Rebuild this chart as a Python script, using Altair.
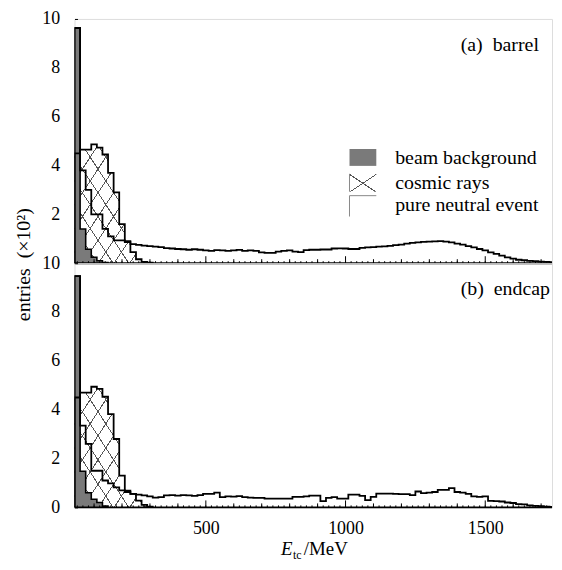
import altair as alt
import pandas as pd

# ---------------- data ----------------
BIN_START = 30      # MeV, left edge of first bin
BIN_WIDTH = 20      # MeV

top_beam = [9.63, 1.40, 0.57, 0.24, 0.10, 0.03]
top_cosmic = [4.50, 4.65, 4.65, 4.86, 4.73, 4.45, 3.70, 2.90, 1.60, 0.86,
              0.45, 0.16, 0.05, 0.02]
top_neutral = [
    9.63, 3.80, 3.00, 2.00, 2.00, 1.40, 1.10, 0.93, 0.93, 0.90,
    0.78, 0.75, 0.72, 0.70, 0.68, 0.66, 0.62, 0.60, 0.58, 0.57,
    0.55, 0.57, 0.55, 0.52, 0.50, 0.53, 0.52, 0.50, 0.52, 0.54,
    0.50, 0.52, 0.50, 0.44, 0.42, 0.42, 0.47, 0.50, 0.52, 0.47,
    0.45, 0.53, 0.55, 0.55, 0.56, 0.56, 0.60, 0.61, 0.60, 0.58,
    0.58, 0.63, 0.65, 0.66, 0.68, 0.69, 0.71, 0.74, 0.76, 0.80,
    0.83, 0.85, 0.87, 0.88, 0.89, 0.90, 0.88, 0.85, 0.80, 0.76,
    0.70, 0.65, 0.58, 0.52, 0.44, 0.38, 0.31, 0.24, 0.19, 0.14,
    0.12, 0.09, 0.08, 0.06, 0.05, 0.04]

bot_beam = [9.47, 1.48, 0.60, 0.33, 0.20, 0.05]
bot_cosmic = [4.50, 4.70, 4.70, 4.94, 4.85, 4.53, 3.82, 2.80, 1.30, 0.69,
              0.55, 0.28, 0.10, 0.03]
bot_neutral = [
    9.47, 3.35, 2.60, 1.50, 1.50, 1.10, 0.98, 0.82, 0.70, 0.63,
    0.55, 0.52, 0.49, 0.45, 0.40, 0.42, 0.49, 0.50, 0.48, 0.50,
    0.49, 0.47, 0.50, 0.55, 0.55, 0.60, 0.42, 0.45, 0.44, 0.46,
    0.42, 0.40, 0.39, 0.39, 0.36, 0.36, 0.36, 0.36, 0.36, 0.43,
    0.43, 0.45, 0.48, 0.48, 0.26, 0.39, 0.42, 0.36, 0.36, 0.52,
    0.52, 0.47, 0.30, 0.43, 0.56, 0.56, 0.56, 0.55, 0.54, 0.54,
    0.50, 0.65, 0.58, 0.60, 0.63, 0.72, 0.72, 0.79, 0.63, 0.60,
    0.55, 0.45, 0.43, 0.45, 0.27, 0.26, 0.24, 0.20, 0.18, 0.13,
    0.12, 0.08, 0.06, 0.05, 0.03, 0.02]

x_label_values = [500, 1000, 1500]
major_ticks = [500, 1000, 1500]
medium_ticks = [100, 200, 300, 400, 600, 700, 800, 900, 1100, 1200, 1300,
                1400, 1600, 1700]
minor_ticks = list(range(40, 1740, 20))
top_y_labels = [2, 4, 6, 8, 10]
bot_y_labels = [0, 2, 4, 6, 8, 10]

legend_labels = ["beam background", "cosmic rays", "pure neutral event"]

# ---------------- style ----------------
W, H = 481, 246
FONT = "Liberation Serif"
X_DOMAIN = [30, 1739]
xscale = alt.Scale(domain=X_DOMAIN, nice=False, zero=False)
yscale = alt.Scale(domain=[0, 10], nice=False)
CLEAR = "rgba(255,255,255,0)"
HATCH = "#555555"
NB = "\u00a0"


def hatch(n, forward, w=0.007, phase=0.5):
    stops = []
    for k in range(n):
        t = (k + phase) / n
        stops += [alt.GradientStop(offset=t, color=CLEAR),
                  alt.GradientStop(offset=t, color=HATCH),
                  alt.GradientStop(offset=min(1, t + w), color=HATCH),
                  alt.GradientStop(offset=min(1, t + w), color=CLEAR)]
    if forward:
        return alt.LinearGradient(gradient="linear", stops=stops, x1=0, y1=0, x2=1, y2=1)
    return alt.LinearGradient(gradient="linear", stops=stops, x1=1, y1=0, x2=0, y2=1)


def area_df(vals):
    xs = [BIN_START + BIN_WIDTH * i for i in range(len(vals) + 1)]
    ys = list(vals) + [vals[-1]]
    return pd.DataFrame({"x": xs, "y": ys})


def outline_df(vals):
    n = len(vals)
    xs = [BIN_START] + [BIN_START + BIN_WIDTH * i for i in range(n)] + [BIN_START + BIN_WIDTH * n] * 2
    ys = [0] + list(vals) + [vals[-1], 0]
    return pd.DataFrame({"x": xs, "y": ys, "o": list(range(len(xs)))})


ONE = pd.DataFrame({"a": [0]})


def panel(beam, cosmic, neutral, label, ylabels, bottom, top):
    yaxis = dict(values=ylabels, title=None, domain=False, grid=False,
                 offset=-3, tickSize=3, tickColor="black", labelFont=FONT,
                 labelFontSize=18, labelColor="black", labelPadding=15)
    if top:
        yaxis.update(title="entries" + NB + NB + "(×10²)", titleFont=FONT, titleFontSize=20,
                     titleFontWeight="normal", titleColor="black", titleAngle=-90,
                     titleX=-54, titleY=H + 1, titleAlign="center", titleBaseline="middle")
    if bottom:
        xaxis = dict(values=x_label_values, title=None, domain=False, grid=False,
                     ticks=False, labelFont=FONT, labelFontSize=18, format="d",
                     labelColor="black", labelPadding=12)
    else:
        xaxis = dict(values=x_label_values, title=None, domain=False, grid=False,
                     ticks=False, labels=False)

    X = alt.X("x:Q", scale=xscale, axis=alt.Axis(**xaxis))
    Y = alt.Y("y:Q", scale=yscale, axis=alt.Axis(**yaxis))

    cdf = area_df(cosmic)
    layers = [
        alt.Chart(cdf).mark_area(interpolate="step-after", fill=hatch(10, True), strokeWidth=0,
                                 clip=True)
        .encode(x=X, y=Y),
        alt.Chart(cdf).mark_area(interpolate="step-after", fill=hatch(10, False), strokeWidth=0,
                                 clip=True)
        .encode(x=X, y=Y),
        alt.Chart(area_df(beam)).mark_area(interpolate="step-after", fill="#7a7a7a", strokeWidth=0,
                                           clip=True)
        .encode(x=X, y=Y),
    ]
    for vals, sw in [(cosmic, 1.8), (beam, 1.6), (neutral, 1.8)]:
        layers.append(
            alt.Chart(outline_df(vals)).mark_line(interpolate="step-after", color="black",
                                                  strokeWidth=sw, clip=True)
            .encode(x=X, y=Y, order="o:Q"))
    # bottom axis line and tick marks
    layers.append(alt.Chart(ONE).mark_rule(color="black", strokeWidth=2)
                  .encode(x=alt.value(0), x2=alt.value(W), y=alt.value(H)))
    for ticks, ln in [(minor_ticks, 2), (medium_ticks, 4), (major_ticks, 7)]:
        layers.append(alt.Chart(pd.DataFrame({"x": ticks})).mark_rule(color="black", strokeWidth=1,
                                                                      clip=True)
                      .encode(x=X, y=alt.value(H), y2=alt.value(H - ln)))
    # panel label
    layers.append(alt.Chart(ONE).mark_text(text=label, font=FONT, fontSize=20, align="left",
                                           baseline="middle", color="black")
                  .encode(x=alt.value(389), y=alt.value(26)))
    if top:
        sw_x0, sw_x1 = 277, 304
        ys = [140, 165, 187]
        layers.append(alt.Chart(ONE).mark_rect(fill="#7a7a7a")
                      .encode(x=alt.value(sw_x0), x2=alt.value(sw_x1),
                              y=alt.value(ys[0] - 9), y2=alt.value(ys[0] + 8)))
        for fwd in (True, False):
            layers.append(alt.Chart(ONE).mark_rect(fill=hatch(1, fwd, 0.03))
                          .encode(x=alt.value(sw_x0), x2=alt.value(sw_x1),
                                  y=alt.value(ys[1] - 9), y2=alt.value(ys[1] + 9)))
        layers.append(alt.Chart(ONE).mark_rule(color="#888888", strokeWidth=1)
                      .encode(x=alt.value(sw_x0), y=alt.value(ys[1] - 9), y2=alt.value(ys[1] + 9)))
        layers.append(alt.Chart(ONE).mark_rule(color="#888888", strokeWidth=1)
                      .encode(x=alt.value(sw_x0), y=alt.value(ys[2] - 9), y2=alt.value(ys[2] + 12)))
        layers.append(alt.Chart(ONE).mark_rule(color="#888888", strokeWidth=1)
                      .encode(x=alt.value(sw_x0), x2=alt.value(sw_x1), y=alt.value(ys[2] - 9)))
        for lab, yy in zip(legend_labels, ys):
            layers.append(alt.Chart(ONE).mark_text(text=lab, font=FONT, fontSize=20, align="left",
                                                   baseline="middle", color="black")
                          .encode(x=alt.value(323), y=alt.value(yy)))
    if bottom:
        layers.append(alt.Chart(ONE).mark_text(text="E", font=FONT, fontSize=19, fontStyle="italic",
                                               align="left", baseline="alphabetic", color="black")
                      .encode(x=alt.value(208), y=alt.value(H + 48)))
        layers.append(alt.Chart(ONE).mark_text(text="tc", font=FONT, fontSize=12,
                                               align="left", baseline="alphabetic", color="black")
                      .encode(x=alt.value(220), y=alt.value(H + 52)))
        layers.append(alt.Chart(ONE).mark_text(text="/MeV", font=FONT, fontSize=19,
                                               align="left", baseline="alphabetic", color="black")
                      .encode(x=alt.value(231), y=alt.value(H + 48)))
    return alt.layer(*layers).properties(width=W, height=H)


top_panel = panel(top_beam, top_cosmic, top_neutral, "(a)" + NB + NB + "barrel", top_y_labels, False, True)
bot_panel = panel(bot_beam, bot_cosmic, bot_neutral, "(b)" + NB + NB + "endcap", bot_y_labels, True, False)

chart = (alt.vconcat(top_panel, bot_panel, spacing=0, bounds="flush")
         .properties(padding={"left": 5, "top": -1, "right": 0, "bottom": 0})
         .configure_view(stroke="#8a8a8a", strokeWidth=1)
         .configure(background="white"))

chart.save("out.html", embed_options={"renderer": "svg", "actions": False})
